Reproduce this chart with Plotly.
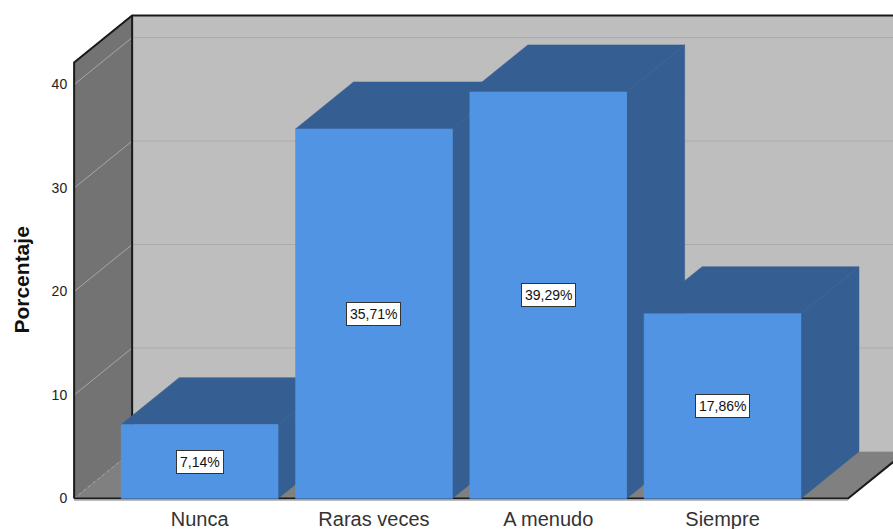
import plotly.graph_objects as go

categories = ["Nunca", "Raras veces", "A menudo", "Siempre"]
percentages = [7.14, 35.71, 39.29, 17.86]
value_labels = ["7,14%", "35,71%", "39,29%", "17,86%"]
y_ticks = [0, 10, 20, 30, 40]

FRONT = "#5294E4"
DARK = "#355F93"
WALL = "#BEBEBE"
LEFT = "#737373"
FLOOR = "#808080"
DX, DY = 0.3328, 4.54      # oblique depth in axis units
HALF = 0.45
XL, XR, TOP = -0.72, 3.72, 42.13
FONT = "Liberation Sans, Arial, sans-serif"

fig = go.Figure()


def poly(xs, ys, color):
    fig.add_trace(go.Scatter(x=xs, y=ys, mode="lines", fill="toself", fillcolor=color,
                             line=dict(color=color, width=0.5), hoverinfo="skip", showlegend=False))


def line(xs, ys, color, width=1, dash="solid"):
    fig.add_trace(go.Scatter(x=xs, y=ys, mode="lines", line=dict(color=color, width=width, dash=dash),
                             hoverinfo="skip", showlegend=False))


# walls and floor
poly([XL + DX, XR + DX, XR + DX, XL + DX, XL + DX], [DY, DY, TOP + DY, TOP + DY, DY], WALL)
poly([XL, XL + DX, XL + DX, XL, XL], [0, DY, TOP + DY, TOP, 0], LEFT)
poly([XL, XR, XR + DX, XL + DX, XL], [0, 0, DY, DY, 0], FLOOR)

# gridlines
for v in y_ticks:
    line([XL + DX, XR + DX], [v + DY, v + DY], "#ABABAB")
    if v == 0:
        line([XL, XL + DX], [v, v + DY], "#A8A8A8", 1, "dot")
    else:
        line([XL, XL + DX], [v, v + DY], "#A8A8A8")

# frame
line([XL, XL, XL + DX, XR + DX], [0, TOP, TOP + DY, TOP + DY], "#1A1A1A", 2)
line([XL + DX, XL + DX], [DY, TOP + DY], "#1A1A1A", 2)
line([XL, XR, XR + DX], [0, 0, DY], "#1A1A1A", 2)
line([XL, XR], [-0.14, -0.14], "#A6A6A6", 1.5)

# bars
for i, v in enumerate(percentages):
    x0, x1 = i - HALF, i + HALF
    poly([x0, x1, x1 + DX, x0 + DX, x0], [v, v, v + DY, v + DY, v], DARK)
    poly([x1, x1 + DX, x1 + DX, x1, x1], [0, DY, v + DY, v, 0], DARK)
    poly([x0, x1, x1, x0, x0], [0, 0, v, v, 0], FRONT)

# value labels
for i, v in enumerate(percentages):
    fig.add_annotation(x=i, y=v / 2, text=value_labels[i], showarrow=False,
                       font=dict(family=FONT, size=14, color="#111111"),
                       bgcolor="white", bordercolor="#333333", borderwidth=1, borderpad=3)

fig.add_annotation(xref="paper", yref="paper", x=-0.0609, y=0.44, xanchor="center", yanchor="middle",
                   text="<b>Porcentaje</b>", textangle=-90,
                   showarrow=False, font=dict(family=FONT, size=21, color="#111111"))

fig.update_layout(
    width=893, height=529, margin=dict(l=72, r=0, t=0, b=28),
    paper_bgcolor="white", plot_bgcolor="white", showlegend=False,
    xaxis=dict(range=[-0.7322, 3.978], tickvals=list(range(4)), ticktext=categories, automargin=False,
               showgrid=False, zeroline=False, showline=False, ticks="outside", ticklen=0,
               tickcolor="rgba(0,0,0,0)",
               tickfont=dict(family=FONT, size=20, color="#333333")),
    yaxis=dict(range=[-0.24, 48.17], tickvals=y_ticks, automargin=False, showgrid=False, zeroline=False,
               showline=False, ticks="outside", ticklen=1, tickcolor="rgba(0,0,0,0)",
               tickfont=dict(family=FONT, size=14, color="#222222")),
)

fig.write_html("out.html", config={"displayModeBar": False},
               post_script="document.body.style.margin='0';document.documentElement.style.overflow='hidden';")
